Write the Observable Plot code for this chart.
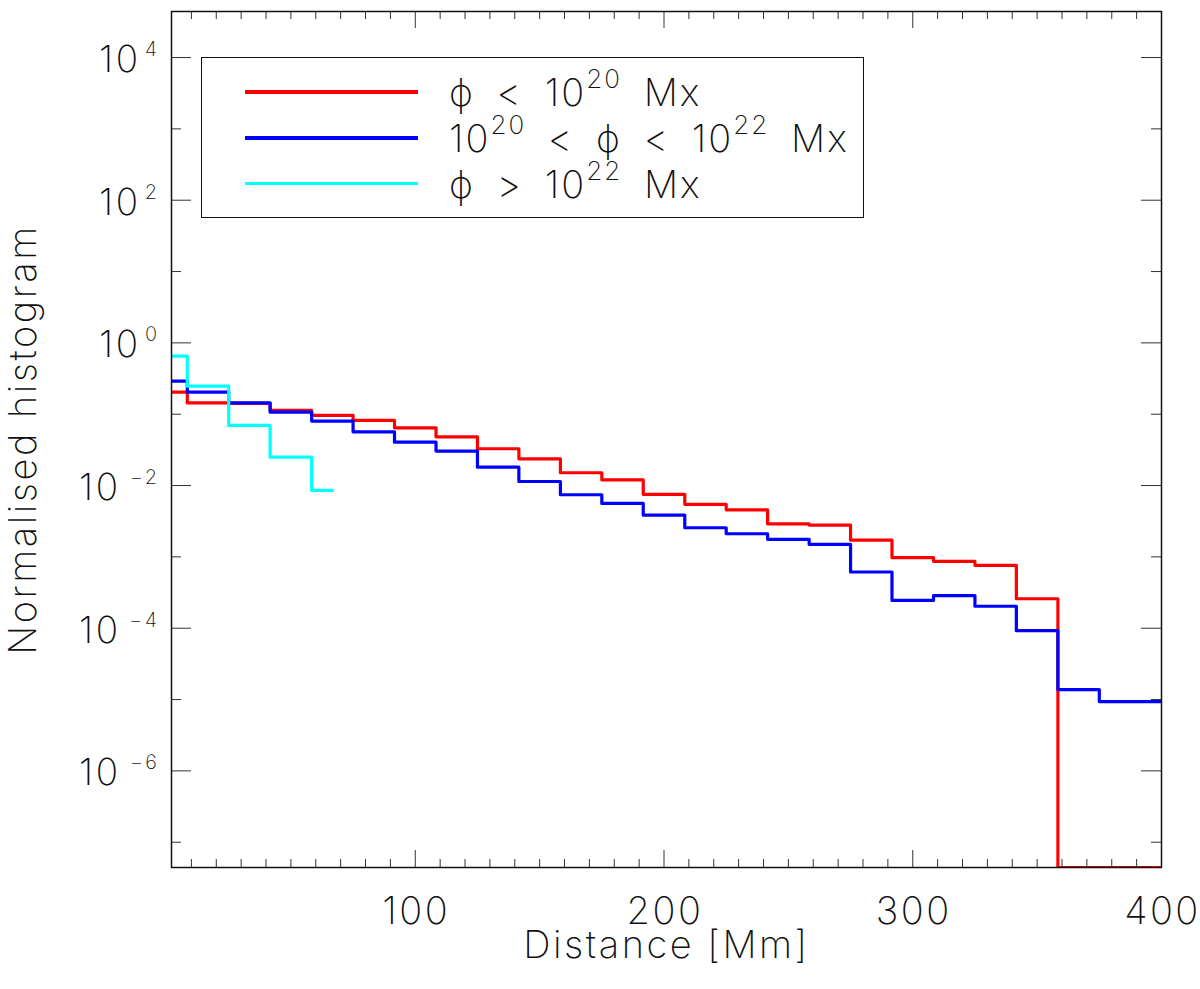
<!DOCTYPE html>
<html>
<head>
<meta charset="utf-8">
<script src="https://cdn.jsdelivr.net/npm/d3@7"></script>
<script src="https://cdn.jsdelivr.net/npm/@observablehq/plot@0.6"></script>
<style>
  body { margin: 0; background: white; overflow: hidden; }
  #grafico { position: relative; width: 1200px; height: 989px; }
  #grafico svg text { letter-spacing: 2.5px; }
  #leyenda {
    position: absolute; left: 201px; top: 57px; width: 661px; height: 159px;
    border: 1.5px solid #111; background: white;
    font-family: Inter, "Open Sans", "Noto Sans", sans-serif; font-weight: 200; font-size: 38px; color: #111;
  }
  .fila { position: absolute; left: 0; height: 40px; display: flex; align-items: center; }
  .muestra { margin-left: 43px; width: 173px; height: 3.5px; }
  .texto { margin-left: 31px; line-height: 40px; white-space: nowrap; letter-spacing: 2px; word-spacing: 9px; }
  .sup { font-size: 26px; position: relative; top: -18px; line-height: 20px; }
</style>
</head>
<body>
<div id="grafico"></div>
<script>
// centros de los bins de distancia (Mm)
const distancia = [0, 16.7, 33.3, 50, 66.7, 83.3, 100, 116.7, 133.3, 150, 166.7, 183.3, 200,
  216.7, 233.3, 250, 266.7, 283.3, 300, 316.7, 333.3, 350, 366.7, 383.3, 400];

// phi < 1e20 Mx  (los bins vacios van en 0)
const flujoBajo = [0.204, 0.144, 0.142, 0.113, 0.096, 0.0817, 0.0645, 0.0482, 0.0328, 0.0237,
  0.0151, 0.0120, 0.00752, 0.00545, 0.00457, 0.00291, 0.00279, 0.00172, 0.000973, 0.000865,
  0.000761, 0.000259, 0, 0, 0];
// 1e20 < phi < 1e22 Mx
const flujoMedio = [0.291, 0.204, 0.144, 0.107, 0.080, 0.0567, 0.0406, 0.0304, 0.0181, 0.0114,
  0.00743, 0.00562, 0.00385, 0.00256, 0.00211, 0.00176, 0.00150, 0.000614, 0.000245, 0.000286,
  0.000203, 0.0000923, 0.0000138, 0.00000935, 0.00000935];
// phi > 1e22 Mx
const flujoAlto = [0.65, 0.247, 0.0697, 0.0251, 0.00855];

const ticksXMayores = [100, 200, 300, 400];
const exponentesY = [-6, -4, -2, 0, 2, 4];
const exponentesYMenores = [-7, -5, -3, -1, 1, 3];

const FUENTE = 'Inter, "Open Sans", "Noto Sans", sans-serif';
const PESO = 200;
const yMin = 4.42e-8, yMax = 4.42e4;
const ancho = 1200, alto = 989;
const mIzq = 171, mDer = 39, mSup = 11, mInf = 122;
const anchoPlot = ancho - mIzq - mDer;
const altoPlot = alto - mSup - mInf;

// bins vacios se dibujan sobre el borde inferior, como en IDL
const serie = (valores) => valores.map((v, i) => ({distancia: distancia[i], valor: v > 0 ? v : yMin}));

const ticksXMenores = d3.range(10, 400, 10).filter(d => d % 100 !== 0);
const ticksY = exponentesY.map(e => 10 ** e);
const ticksYMenores = exponentesYMenores.map(e => 10 ** e);
const sup = e => (e < 0 ? "\u2212" + Math.abs(e) : String(e));

const linea = (datos, color) => Plot.line(datos, {
  x: "distancia", y: "valor", curve: "step", stroke: color, strokeWidth: 3.2, clip: true
});

const texto = {fontWeight: PESO, fill: "#111", lineAnchor: "middle"};

const chart = Plot.plot({
  width: ancho,
  height: alto,
  marginLeft: mIzq,
  marginRight: mDer,
  marginTop: mSup,
  marginBottom: mInf,
  x: {domain: [2, 400], axis: null},
  y: {type: "log", domain: [yMin, yMax], clamp: true, axis: null},
  style: {fontFamily: FUENTE, fontWeight: PESO, background: "white", color: "#111"},
  marks: [
    linea(serie(flujoBajo), "#ff0000"),
    linea(serie(flujoMedio), "#0000ff"),
    linea(serie(flujoAlto), "#00ffff"),

    // ticks hacia adentro en los cuatro lados
    Plot.tickX(ticksXMenores, {x: d => d, insetTop: altoPlot - 8, stroke: "#333"}),
    Plot.tickX(ticksXMenores, {x: d => d, insetBottom: altoPlot - 8, stroke: "#333"}),
    Plot.tickX(ticksXMayores, {x: d => d, insetTop: altoPlot - 17, stroke: "#333"}),
    Plot.tickX(ticksXMayores, {x: d => d, insetBottom: altoPlot - 17, stroke: "#333"}),
    Plot.tickY(ticksYMenores, {y: d => d, insetRight: anchoPlot - 10, stroke: "#333"}),
    Plot.tickY(ticksYMenores, {y: d => d, insetLeft: anchoPlot - 10, stroke: "#333"}),
    Plot.tickY(ticksY, {y: d => d, insetRight: anchoPlot - 20, stroke: "#333"}),
    Plot.tickY(ticksY, {y: d => d, insetLeft: anchoPlot - 20, stroke: "#333"}),

    Plot.frame({stroke: "#111", strokeWidth: 1.5}),

    // etiquetas eje x
    Plot.text(ticksXMayores, {
      ...texto, x: d => d, text: d => String(d), frameAnchor: "bottom", dy: 44, dx: 1, fontSize: 38
    }),
    Plot.text(["Distance [Mm]"], {
      ...texto, frameAnchor: "bottom", dy: 78, fontSize: 38
    }),

    // etiquetas eje y: "10" + exponente
    Plot.text(ticksY.filter(d => d >= 1), {
      ...texto, y: d => d, text: () => "10", frameAnchor: "left", textAnchor: "end",
      dx: -31, dy: 2.5, fontSize: 37
    }),
    Plot.text(ticksY.filter(d => d < 1), {
      ...texto, y: d => d, text: () => "10", frameAnchor: "left", textAnchor: "end",
      dx: -51, dy: 2.5, fontSize: 37
    }),
    Plot.text(exponentesY, {
      ...texto, y: e => 10 ** e, text: sup, frameAnchor: "left", textAnchor: "end",
      dx: -12, dy: -8, fontSize: 20
    }),
    Plot.text(["Normalised histogram"], {
      ...texto, frameAnchor: "left", textAnchor: "middle", rotate: -90, dx: -148, fontSize: 38
    })
  ]
});

d3.select('#grafico').append(() => chart);

// leyenda
const entradas = [
  {color: "#ff0000", html: '\u03d5 &lt; 10<span class="sup">20</span> Mx', centro: 34},
  {color: "#0000ff", html: '10<span class="sup">20</span> &lt; \u03d5 &lt; 10<span class="sup">22</span> Mx', centro: 80},
  {color: "#00ffff", html: '\u03d5 &gt; 10<span class="sup">22</span> Mx', centro: 125.5}
];
const leyenda = d3.select('#grafico').append('div').attr('id', 'leyenda');
entradas.forEach(d => {
  const fila = leyenda.append('div').attr('class', 'fila').style('top', (d.centro - 20) + 'px');
  fila.append('div').attr('class', 'muestra').style('background', d.color);
  fila.append('span').attr('class', 'texto').html(d.html);
});
</script>
</body>
</html>
